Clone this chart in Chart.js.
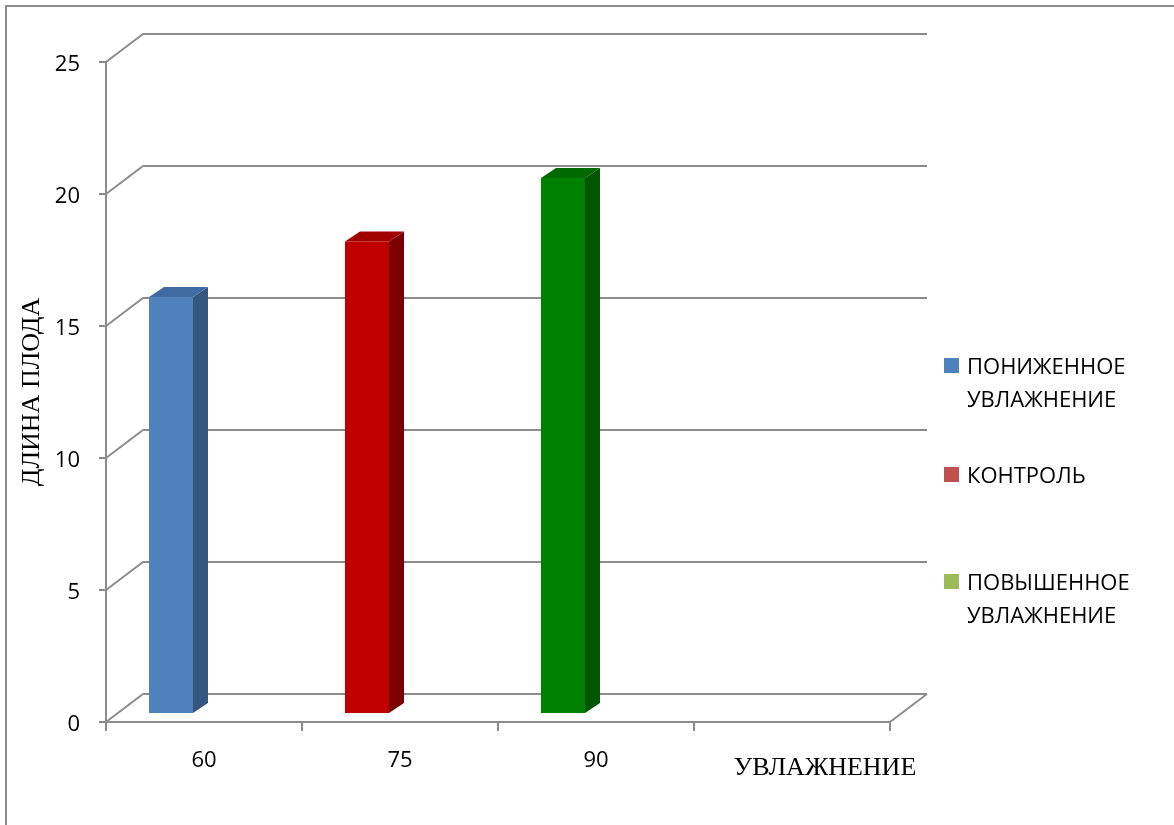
<!DOCTYPE html>
<html>
<head>
<meta charset="utf-8">
<script src="https://cdn.jsdelivr.net/npm/chart.js@4/dist/chart.umd.min.js"></script>
<style>
  html, body { margin: 0; padding: 0; background: #fff; }
  #wrap { width: 1174px; height: 825px; position: relative; }
</style>
</head>
<body>
<div id="wrap"><canvas id="chart"></canvas></div>
<script>
// данные
const categories = ["60", "75", "90", ""];
const seriesNames = ["ПОНИЖЕННОЕ УВЛАЖНЕНИЕ", "КОНТРОЛЬ", "ПОВЫШЕННОЕ УВЛАЖНЕНИЕ"];
const lowValues = [15.8, null, null, null];
const controlValues = [null, 17.9, null, null];
const highValues = [null, null, 20.3, null];
const yMin = 0, yMax = 25, yStep = 5;
const xTitle = "УВЛАЖНЕНИЕ";
const yTitle = "ДЛИНА ПЛОДА";

// стиль
const GRID = "#8c8c8c";
const DEPTH_X = 37, DEPTH_Y = -28;      // глубина пола / задней стенки
const SHIFT_X = -33, SHIFT_Y = -8;      // смещение столбиков в глубину
const BAR_DX = 15, BAR_DY = -10;        // толщина столбика
const LEGEND_X = 944, LEGEND_TOPS = [358, 467, 574], LEGEND_BOX = 15, LEGEND_LINE = 33;
const TICK_FONT = { family: "'Open Sans'", size: 22 };

const faces = [
  { front: "#4F81BD", side: "#35577f", top: "#3f6aa2", legend: "#4F81BD" },
  { front: "#C00000", side: "#7a0000", top: "#a00000", legend: "#C0504D" },
  { front: "#008000", side: "#005600", top: "#006a00", legend: "#9BBB59" }
];

const chart3d = {
  id: "chart3d",
  beforeDraw(chart) {
    const { ctx, width, height } = chart;
    ctx.save();
    ctx.fillStyle = "#fff";
    ctx.fillRect(0, 0, width, height);
    ctx.strokeStyle = GRID;
    ctx.lineWidth = 2;
    ctx.beginPath();
    ctx.moveTo(6, height);
    ctx.lineTo(6, 6);
    ctx.lineTo(width, 6);
    ctx.stroke();
    ctx.restore();
  },
  beforeDatasetsDraw(chart) {
    const { ctx, chartArea: a, scales: { y } } = chart;
    ctx.save();
    ctx.strokeStyle = GRID;
    ctx.lineWidth = 2;
    y.ticks.forEach(t => {
      const py = y.getPixelForValue(t.value);
      ctx.beginPath();
      ctx.moveTo(a.left, py);
      ctx.lineTo(a.left + DEPTH_X, py + DEPTH_Y);
      ctx.lineTo(a.right + DEPTH_X, py + DEPTH_Y);
      ctx.stroke();
    });
    ctx.beginPath();
    ctx.moveTo(a.right, a.bottom);
    ctx.lineTo(a.right + DEPTH_X, a.bottom + DEPTH_Y);
    ctx.stroke();
    ctx.restore();
    ctx.save();
    ctx.translate(SHIFT_X, SHIFT_Y);
  },
  afterDatasetsDraw(chart) {
    const ctx = chart.ctx;
    chart.data.datasets.forEach((ds, i) => {
      const meta = chart.getDatasetMeta(i);
      meta.data.forEach((bar, j) => {
        if (ds.data[j] == null) return;
        const { x, y, base, width } = bar.getProps(["x", "y", "base", "width"], true);
        const l = x - width / 2, r = x + width / 2;
        ctx.fillStyle = faces[i].side;
        ctx.beginPath();
        ctx.moveTo(r, base);
        ctx.lineTo(r + BAR_DX, base + BAR_DY);
        ctx.lineTo(r + BAR_DX, y + BAR_DY);
        ctx.lineTo(r, y);
        ctx.closePath();
        ctx.fill();
        ctx.fillStyle = faces[i].top;
        ctx.beginPath();
        ctx.moveTo(l, y);
        ctx.lineTo(r, y);
        ctx.lineTo(r + BAR_DX, y + BAR_DY);
        ctx.lineTo(l + BAR_DX, y + BAR_DY);
        ctx.closePath();
        ctx.fill();
      });
    });
    ctx.restore();
  },
  afterDraw(chart) {
    const ctx = chart.ctx;
    ctx.save();
    // подпись оси X
    ctx.fillStyle = "#000";
    ctx.font = "26px 'Liberation Serif'";
    ctx.textAlign = "center";
    ctx.textBaseline = "alphabetic";
    ctx.fillText(xTitle, 825, 775);
    // легенда
    ctx.font = "22px 'Open Sans'";
    ctx.textAlign = "left";
    seriesNames.forEach((name, i) => {
      const top = LEGEND_TOPS[i];
      ctx.fillStyle = faces[i].legend;
      ctx.fillRect(LEGEND_X, top, LEGEND_BOX, LEGEND_BOX);
      ctx.fillStyle = "#000";
      name.split(" ").forEach((line, k) => {
        ctx.fillText(line, LEGEND_X + 23, top + 16 + k * LEGEND_LINE);
      });
    });
    ctx.restore();
  }
};

const ctx = document.getElementById("chart").getContext("2d");
new Chart(ctx, {
  type: "bar",
  data: {
    labels: categories,
    datasets: [
      { label: seriesNames[0], data: lowValues, backgroundColor: faces[0].front },
      { label: seriesNames[1], data: controlValues, backgroundColor: faces[1].front },
      { label: seriesNames[2], data: highValues, backgroundColor: faces[2].front }
    ]
  },
  options: {
    responsive: true,
    maintainAspectRatio: false,
    animation: false,
    skipNull: true,
    categoryPercentage: 1,
    barPercentage: 0.2245,
    clip: false,
    layout: { padding: { left: 0, top: 62, right: 284, bottom: 0 } },
    plugins: { legend: { display: false }, tooltip: { enabled: false } },
    scales: {
      x: {
        grid: { offset: true, drawOnChartArea: false, drawTicks: true, tickLength: 9, color: GRID, lineWidth: 2 },
        border: { display: true, color: GRID, width: 2 },
        ticks: { font: TICK_FONT, color: "#000", padding: 17, maxRotation: 0 },
        afterFit(scale) { scale.height = 103; }
      },
      y: {
        min: yMin,
        max: yMax,
        grid: { drawOnChartArea: false, drawTicks: true, tickLength: 7, color: GRID, lineWidth: 2 },
        border: { display: true, color: GRID, width: 2 },
        ticks: { stepSize: yStep, font: TICK_FONT, color: "#000", padding: 19, labelOffset: 3 },
        title: {
          display: true,
          text: yTitle,
          color: "#000",
          font: { family: "'Liberation Serif'", size: 26 },
          padding: { top: 17 }
        },
        afterFit(scale) { scale.width = 106; }
      }
    }
  },
  plugins: [chart3d]
});
</script>
</body>
</html>
